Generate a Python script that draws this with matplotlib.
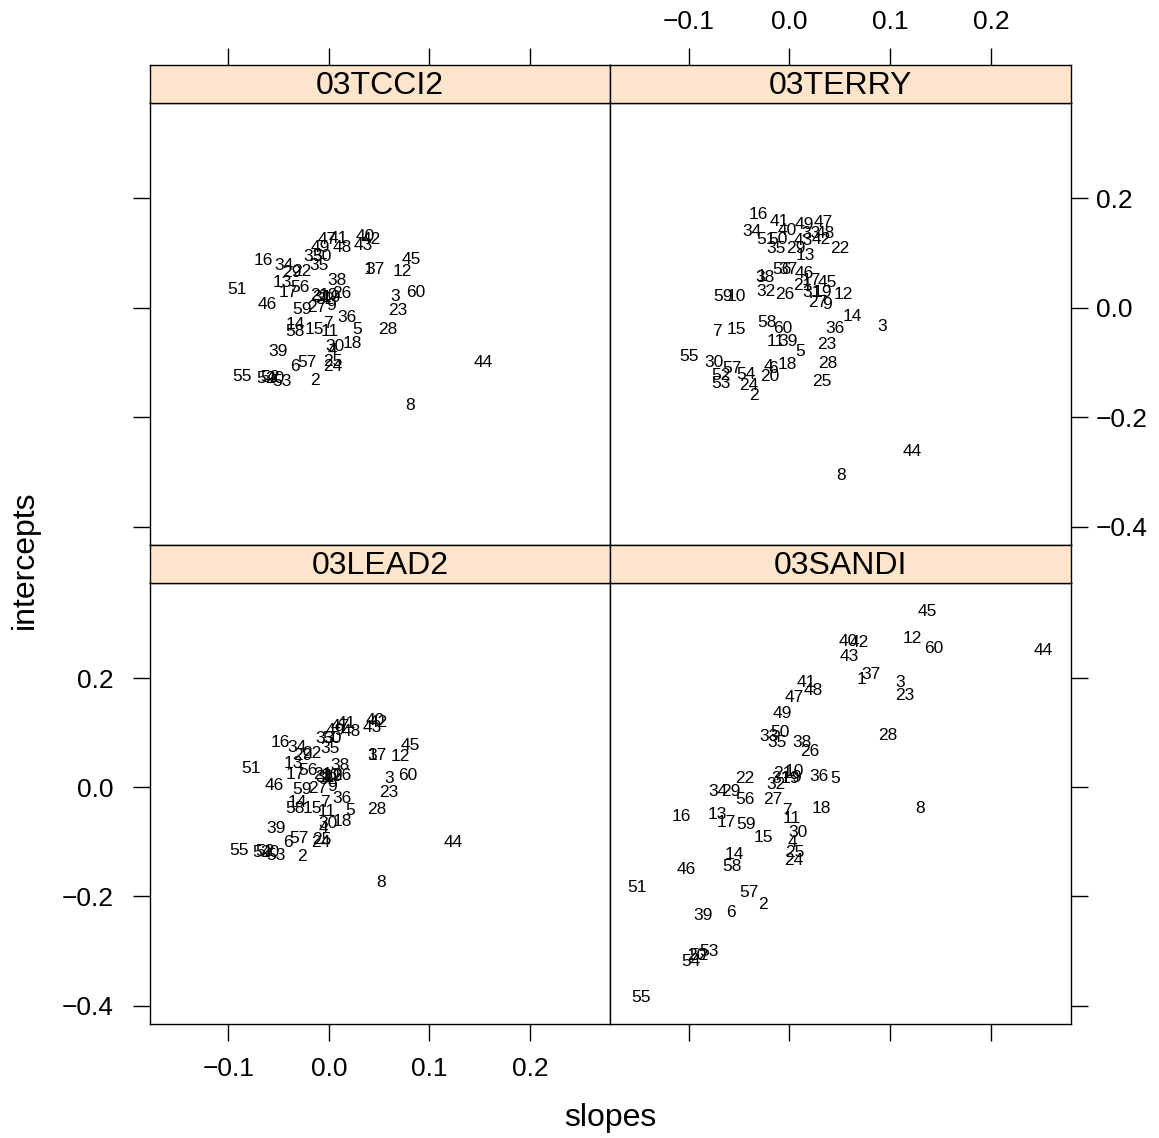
import matplotlib
matplotlib.use("Agg")
import matplotlib.pyplot as plt

plt.rcParams['font.family'] = ['Liberation Sans', 'DejaVu Sans']

ids = list(range(1, 61))

# 03TCCI2
tcci2_slope = [0.0398, -0.0139, 0.0657, 0.0030, 0.0279, -0.0338, -0.0010, 0.0806, 0.0020, -0.0010,
               0.0010, 0.0726, -0.0468, -0.0338, -0.0149, -0.0657, -0.0408, 0.0229, 0.0020, -0.0537,
               -0.0090, -0.0269, 0.0687, 0.0040, 0.0040, 0.0129, -0.0119, 0.0587, -0.0368, 0.0060,
               -0.0070, -0.0040, -0.0159, -0.0448, -0.0100, 0.0179, 0.0458, 0.0080, -0.0507, 0.0358,
               0.0090, 0.0418, 0.0338, 0.1532, 0.0816, -0.0617, -0.0020, 0.0129, -0.0090, -0.0070,
               -0.0915, -0.0587, -0.0468, -0.0627, -0.0866, -0.0289, -0.0219, -0.0338, -0.0269, 0.0866]
tcci2_inter = [0.0695, -0.1336, 0.0201, -0.0787, -0.0403, -0.1080, -0.0293, -0.1793, 0.0037, 0.0220,
               -0.0439, 0.0659, 0.0457, -0.0311, -0.0403, 0.0860, 0.0274, -0.0659, 0.0183, -0.1299,
               0.0220, 0.0659, -0.0055, -0.1080, -0.0988, 0.0256, 0.0000, -0.0403, 0.0640, -0.0714,
               0.0183, 0.0146, 0.0933, 0.0769, 0.0769, -0.0183, 0.0695, 0.0494, -0.0805, 0.1299,
               0.1263, 0.1244, 0.1134, -0.1006, 0.0878, 0.0055, 0.1244, 0.1098, 0.1098, 0.0933,
               0.0329, -0.1281, -0.1354, -0.1299, -0.1263, 0.0366, -0.1006, -0.0439, -0.0037, 0.0274]

# 03TERRY
terry_slope = [-0.0279, -0.0348, 0.0925, -0.0209, 0.0109, -0.0159, -0.0716, 0.0517, 0.0378, -0.0527,
               -0.0139, 0.0537, 0.0159, 0.0627, -0.0527, -0.0308, 0.0219, -0.0020, 0.0328, -0.0199,
               0.0129, 0.0498, 0.0368, -0.0408, 0.0318, -0.0050, 0.0279, 0.0378, 0.0060, -0.0746,
               0.0229, -0.0229, 0.0219, -0.0368, -0.0129, 0.0448, -0.0010, -0.0239, -0.0010, -0.0020,
               -0.0100, 0.0318, 0.0139, 0.1224, 0.0378, 0.0149, 0.0338, 0.0358, 0.0149, -0.0109,
               -0.0229, -0.0677, -0.0677, -0.0428, -0.0995, -0.0070, -0.0567, -0.0219, -0.0657, -0.0070]
terry_inter = [0.0567, -0.1610, -0.0348, -0.1080, -0.0805, -0.1116, -0.0439, -0.3074, 0.0055, 0.0201,
               -0.0622, 0.0238, 0.0952, -0.0165, -0.0403, 0.1702, 0.0494, -0.1043, 0.0274, -0.1263,
               0.0403, 0.1080, -0.0677, -0.1427, -0.1354, 0.0238, 0.0091, -0.1025, 0.1080, -0.1006,
               0.0274, 0.0293, 0.1354, 0.1391, 0.1080, -0.0384, 0.0695, 0.0549, -0.0622, 0.1409,
               0.1574, 0.1244, 0.1226, -0.2635, 0.0457, 0.0622, 0.1555, 0.1354, 0.1519, 0.1244,
               0.1244, -0.1244, -0.1391, -0.1226, -0.0897, 0.0695, -0.1116, -0.0274, 0.0201, -0.0384]

# 03LEAD2
lead2_slope = [0.0428, -0.0269, 0.0597, -0.0060, 0.0209, -0.0408, -0.0040, 0.0517, 0.0030, 0.0010,
               -0.0020, 0.0706, -0.0358, -0.0318, -0.0169, -0.0488, -0.0338, 0.0129, 0.0040, -0.0587,
               -0.0060, -0.0169, 0.0597, -0.0080, -0.0070, 0.0129, -0.0109, 0.0478, -0.0259, -0.0010,
               -0.0040, -0.0010, -0.0040, -0.0318, 0.0010, 0.0129, 0.0478, 0.0109, -0.0527, 0.0458,
               0.0169, 0.0488, 0.0428, 0.1234, 0.0806, -0.0547, 0.0109, 0.0219, 0.0060, 0.0030,
               -0.0776, -0.0637, -0.0527, -0.0667, -0.0896, -0.0209, -0.0299, -0.0338, -0.0269, 0.0786]
lead2_inter = [0.0586, -0.1263, 0.0165, -0.0750, -0.0421, -0.1006, -0.0274, -0.1738, 0.0018, 0.0220,
               -0.0439, 0.0567, 0.0439, -0.0274, -0.0384, 0.0823, 0.0238, -0.0622, 0.0201, -0.1189,
               0.0238, 0.0622, -0.0091, -0.1006, -0.0951, 0.0220, -0.0018, -0.0403, 0.0586, -0.0659,
               0.0183, 0.0146, 0.0897, 0.0732, 0.0714, -0.0201, 0.0586, 0.0403, -0.0750, 0.1226,
               0.1171, 0.1189, 0.1098, -0.1006, 0.0769, 0.0037, 0.1116, 0.1025, 0.1043, 0.0897,
               0.0348, -0.1171, -0.1244, -0.1189, -0.1153, 0.0311, -0.0933, -0.0384, -0.0037, 0.0220]

# 03SANDI
sandi_slope = [0.0716, -0.0259, 0.1104, 0.0030, 0.0458, -0.0577, -0.0020, 0.1294, 0.0070, 0.0050,
               0.0020, 0.1224, -0.0716, -0.0547, -0.0259, -0.1075, -0.0627, 0.0318, 0.0010, -0.0915,
               -0.0070, -0.0448, 0.1144, 0.0040, 0.0050, 0.0199, -0.0169, 0.0975, -0.0577, 0.0090,
               -0.0080, -0.0129, -0.0199, -0.0706, -0.0119, 0.0289, 0.0806, 0.0129, -0.0856, 0.0587,
               0.0169, 0.0697, 0.0597, 0.2517, 0.1373, -0.1025, 0.0050, 0.0239, -0.0070, -0.0090,
               -0.1512, -0.0896, -0.0796, -0.0975, -0.1473, -0.0438, -0.0398, -0.0567, -0.0428, 0.1433]
sandi_inter = [0.1976, -0.2141, 0.1921, -0.1006, 0.0165, -0.2287, -0.0421, -0.0384, 0.0183, 0.0293,
               -0.0567, 0.2726, -0.0494, -0.1226, -0.0915, -0.0531, -0.0640, -0.0384, 0.0165, -0.3074,
               0.0256, 0.0165, 0.1683, -0.1336, -0.1189, 0.0659, -0.0220, 0.0952, -0.0073, -0.0823,
               0.0165, 0.0055, 0.0933, -0.0073, 0.0823, 0.0201, 0.2068, 0.0823, -0.2342, 0.2672,
               0.1921, 0.2653, 0.2397, 0.2507, 0.3220, -0.1500, 0.1647, 0.1775, 0.1354, 0.1006,
               -0.1830, -0.3074, -0.3001, -0.3184, -0.3843, -0.0220, -0.1921, -0.1446, -0.0677, 0.2543]

x_ticks = [-0.1, 0.0, 0.1, 0.2]
y_ticks = [-0.4, -0.2, 0.0, 0.2]

W, H = 1159, 1138
fig = plt.figure(figsize=(W / 100, H / 100), dpi=100)

xlim = (-0.1781, 0.2796)
ylim = (-0.4337, 0.3742)
strip_col = '#FFE5CC'
tick_fs = 19
lab_fs = 12.5


def frac(x0, y0, x1, y1):
    # pixel box (top-left origin) to figure fraction rect
    return [x0 / W, 1 - y1 / H, (x1 - x0) / W, (y1 - y0) / H]


def fmt(v):
    s = "%.1f" % v
    return s.replace('-', '\u2212')


panels = [
    ("03TCCI2", tcci2_slope, tcci2_inter, (150, 103, 610, 545), (150, 65, 610, 103)),
    ("03TERRY", terry_slope, terry_inter, (610, 103, 1071, 545), (610, 65, 1071, 103)),
    ("03LEAD2", lead2_slope, lead2_inter, (150, 583, 610, 1024), (150, 545, 610, 583)),
    ("03SANDI", sandi_slope, sandi_inter, (610, 583, 1071, 1024), (610, 545, 1071, 583)),
]

for k, (name, xs, ys, box, sbox) in enumerate(panels):
    ax = fig.add_axes(frac(*box))
    ax.set_xlim(*xlim)
    ax.set_ylim(*ylim)
    for i, xv, yv in zip(ids, xs, ys):
        ax.text(xv, yv, str(i), ha='center', va='center', fontsize=lab_fs)
    top = k < 2
    left = k % 2 == 0
    ax.set_xticks(x_ticks)
    ax.set_yticks(y_ticks)
    ax.set_yticklabels([fmt(v) for v in y_ticks])
    ax.set_xticklabels([fmt(v) for v in x_ticks])
    ax.tick_params(axis='x', direction='out', length=12, width=1, labelsize=tick_fs,
                   top=False, bottom=not top, labelbottom=(k == 2), labeltop=False, pad=12)
    ax.tick_params(axis='y', direction='out', length=12, width=1, labelsize=tick_fs,
                   left=left, right=not left, labelleft=(k == 2), labelright=(k == 1))
    if left:
        ax.tick_params(axis='y', pad=14)
    else:
        ax.tick_params(axis='y', pad=6)
    for s in ax.spines.values():
        s.set_linewidth(1.0)

    sax = fig.add_axes(frac(*sbox))
    sax.set_facecolor(strip_col)
    sax.set_xlim(*xlim)
    sax.set_yticks([])
    sax.text(0.5, 0.45, name, transform=sax.transAxes, ha='center', va='center', fontsize=23)
    for s in sax.spines.values():
        s.set_linewidth(1.0)
    if top:
        sax.set_xticks(x_ticks)
        sax.set_xticklabels([fmt(v) for v in x_ticks])
        sax.tick_params(direction='out', length=12, width=1, labelsize=tick_fs,
                        top=True, bottom=False, labelbottom=False,
                        labeltop=(k == 1), pad=10)
    else:
        sax.set_xticks([])

fig.text(610 / W, 1 - 1118 / H, "slopes", ha='center', va='center', fontsize=23)
fig.text(25 / W, 1 - 560 / H, "intercepts", ha='center', va='center', fontsize=23, rotation=90)

fig.savefig("out.png", dpi=100, facecolor='white')
